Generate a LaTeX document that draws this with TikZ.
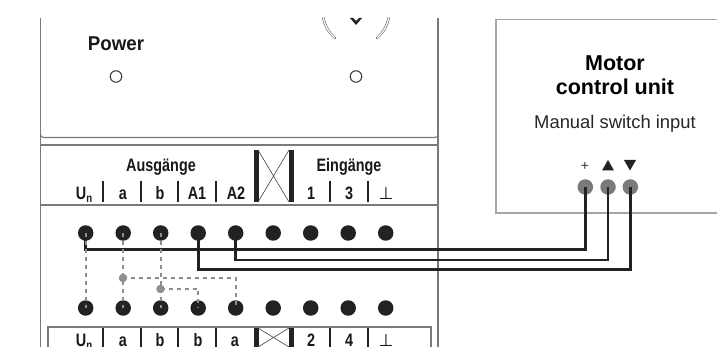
\documentclass[tikz,border=0pt]{standalone}
\usepackage{fontspec}
\setmainfont{Liberation Sans}
\newfontfamily\symfont{DejaVu Sans}
\usetikzlibrary{calc}
\definecolor{wirek}{HTML}{222222}
\definecolor{dashg}{HTML}{8E8E8E}
\definecolor{rimg}{HTML}{7A7A7A}
\newcommand{\cnd}[1]{\scalebox{0.8}[1]{\bfseries #1}}
\newcommand{\Un}{\cnd{U\raisebox{-3pt}{\fontsize{12}{12}\selectfont n}}}
\tikzset{
  x=1pt,y=-1pt,
  rim/.style={draw=rimg,line width=1.1pt},
  term/.style={circle,fill=wirek,minimum size=15.5pt,inner sep=0pt},
  port/.style={circle,fill=rimg,minimum size=15.5pt,inner sep=0pt},
  junc/.style={circle,fill=dashg,minimum size=8.5pt,inner sep=0pt},
  led/.style={circle,draw=black!80,line width=1pt,minimum size=11.5pt,inner sep=0pt},
  wire/.style={draw=wirek,line width=2.6pt,line join=miter},
  jump/.style={draw=dashg,line width=2pt,dash pattern=on 4pt off 4pt},
  lab/.style={inner sep=0pt,font=\fontsize{18}{18}\selectfont,text=black!90,anchor=base},
  pow/.style={inner sep=0pt,font=\fontsize{20}{20}\selectfont,text=black!90},
  sep/.style={draw=wirek,line width=2.6pt},
  fat/.style={draw=wirek,line width=5pt},
  thin/.style={draw=black!75,line width=.6pt},
  unit/.style={inner sep=0pt,font=\fontsize{21.5}{21.5}\selectfont\bfseries,text=black,anchor=base},
  unitsub/.style={inner sep=0pt,font=\fontsize{18.4}{18.4}\selectfont,text=black!85,anchor=base},
  tri/.style={fill=wirek,draw=none}
}
\begin{document}
\begin{tikzpicture}
\useasboundingbox (0,0) rectangle (717,347);
\clip (0,0) rectangle (717,347);
\fill[white] (0,0) rectangle (717,347);
% housing
\begin{scope}
\clip (0,18) rectangle (717,347);
\draw[rim] (40.5,134) .. controls (40.5,136.5) and (41.5,137.5) .. (44,137.5) -- (434.5,137.5) .. controls (437,137.5) and (438,136.5) .. (438,134);
\draw[rim] (40.5,18) -- (40.5,347);
\draw[rim] (438,18) -- (438,347);
\draw[rim] (40.5,145) -- (438,145);
\draw[rim] (40.5,205) -- (438,205);
\draw[rim] (48,347) -- (48,327) -- (431,327) -- (431,347);
% arcs and chevron
\foreach \p in {{(323,17) .. controls (325,26) and (329,33) .. (335,38)},{(389,17) .. controls (387,26) and (383,33) .. (377,38)}}{
  \draw[draw=black!60,line width=2.4pt,line cap=round] \p;
  \draw[draw=white,line width=1.2pt,line cap=round] \p;
}
\fill[wirek] (350,18) -- (353,18) -- (356,21) -- (359,18) -- (362,18) -- (356,25) -- cycle;
\end{scope}
\node[pow] (power) at (116,44) {\scalebox{1.17}[1]{\cnd{Power}}};
\node[led] (led1) at (116,76.5) {};
\node[led] (led2) at (356,76.5) {};
% header
\node[lab] (ausg) at (161,172) {\cnd{Ausgänge}};
\node[lab] (eing) at (349,172) {\cnd{Eingänge}};
\foreach \x/\t in {84/\Un,123/\cnd{a},160/\cnd{b},197/\cnd{A1},236/\cnd{A2},311/\cnd{1},349/\cnd{3}}
  \node[lab] at (\x,199.5) {\t};
\node[lab,font=\symfont\fontsize{17}{17}\selectfont] at (386,199.5) {⊥};
\foreach \x in {103,141,178,216,330,368}
  \draw[sep] (\x,181) -- (\x,202);
\draw[fat] (256,150) -- (256,202);
\draw[fat] (291,150) -- (291,202);
\draw[thin] (258,150) -- (289,202);
\draw[thin] (289,150) -- (258,202);
% footer
\foreach \x/\t in {84/\Un,123/\cnd{a},160/\cnd{b},198/\cnd{b},235/\cnd{a},311/\cnd{2},349/\cnd{4}}
  \node[lab] at (\x,346) {\t};
\node[lab,font=\symfont\fontsize{17}{17}\selectfont] at (386,346) {⊥};
\foreach \x in {103,141,178,216,330,368}
  \draw[sep] (\x,328) -- (\x,347);
\draw[fat] (256,328) -- (256,347);
\draw[fat] (291,328) -- (291,347);
\draw[thin] (258,328) -- (289,347);
\draw[thin] (289,328) -- (258,347);
% terminals
\foreach \n/\x in {1/85.7,2/123.2,3/160.7,4/198.2,5/235.7,6/273.2,7/310.7,8/348.2,9/385.7}{
  \node[term] (t\n) at (\x,233) {};
  \node[term] (b\n) at (\x,308) {};
}
% motor unit
\draw[draw=black!35,line width=1.1pt] (717,19.5) -- (496,19.5) -- (496,213) -- (717,213);
\node[unit] (m1) at (615,70.5) {Motor};
\node[unit] (m2) at (615,95) {control unit};
\node[unitsub] (m3) at (615,129) {Manual switch input};
\node[inner sep=0pt,font=\fontsize{14}{14}\selectfont,text=black!80] (plus) at (585,166) {+};
\fill[tri] (602,170.5) -- (614,170.5) -- (608,160) -- cycle;
\fill[tri] (624,160) -- (636,160) -- (630,170.5) -- cycle;
\node[port] (p1) at (585.3,187) {};
\node[port] (p2) at (608,187) {};
\node[port] (p3) at (630.3,187) {};
% wires
\coordinate (c1) at (400,249.5);
\coordinate (c2) at (400,260);
\coordinate (c3) at (400,269.5);
\draw[wire] (t1.center) |- (c1) -| (p1.center);
\draw[wire] (t5.center) |- (c2) -| (p2.center);
\draw[wire] (t4.center) |- (c3) -| (p3.center);
% jumpers
\node[junc] (ja) at (123,278) {};
\node[junc] (jb) at (160.5,289) {};
\draw[jump] (t1.center) -- (b1.center);
\draw[jump] (t2.center) -- (b2.center);
\draw[jump] (t3.center) -- (b3.center);
\draw[jump] (ja.center) -| (b5.center);
\draw[jump] (jb.center) -| (b4.center);
\end{tikzpicture}
\end{document}
